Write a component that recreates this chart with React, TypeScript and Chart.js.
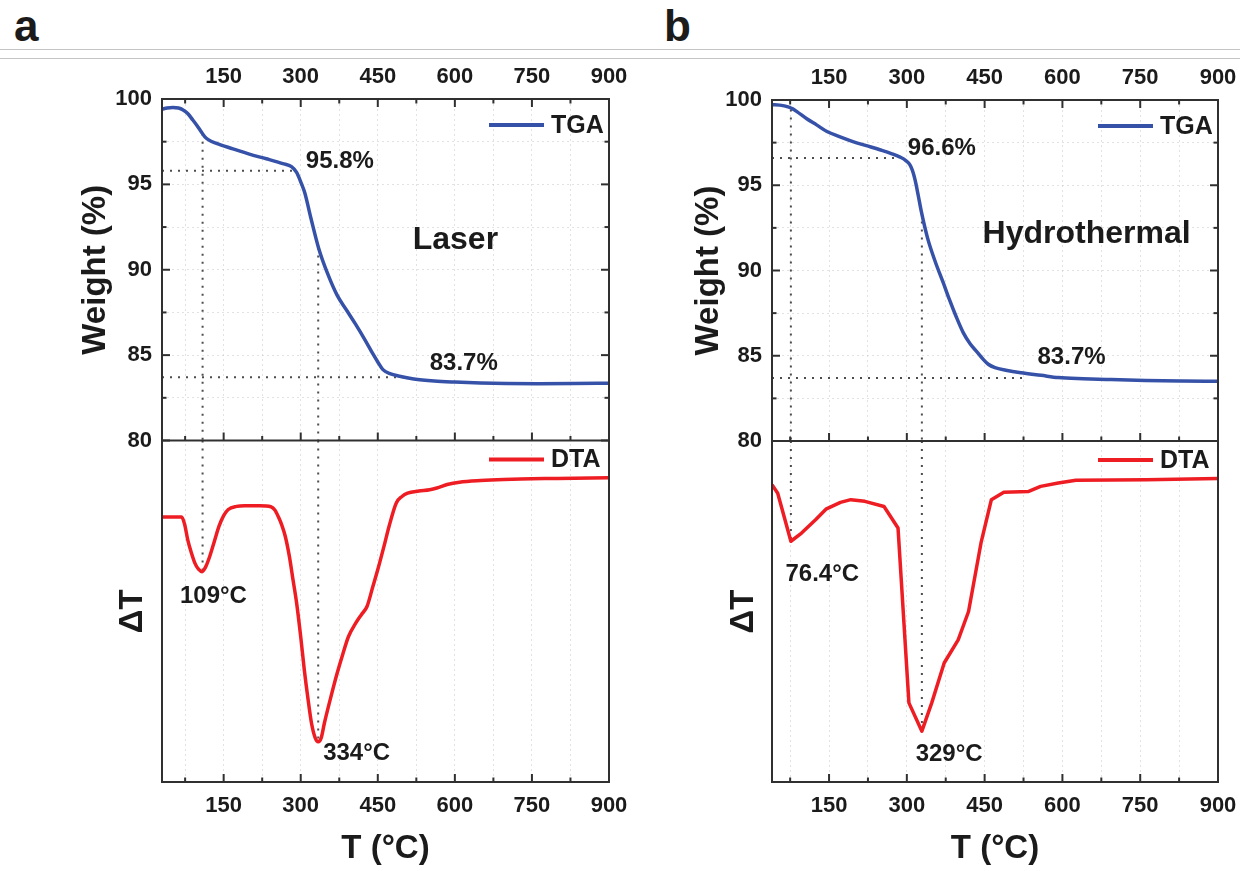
import React, { useEffect, useRef } from "react";
import { Chart, registerables } from "chart.js";

Chart.register(...registerables);

const FONT = "'Liberation Sans', Arial, Helvetica, sans-serif";
const INK = "#1b1b1b";
const FRAME = "#303030";
const GRID = "rgba(190,190,190,0.45)";
const GUIDE = "#4d4d4d";
const TGA_COLOR = "#3651a8";
const DTA_COLOR = "#ee1d23";

// Axis definitions
const T_MAX = 900;
const T_STEP = 75;
const T_LABEL_STEP = 150;
const W_MIN = 80;
const W_MAX = 100;
const W_STEP = 2.5;
const W_LABEL_STEP = 5;
const DT_MIN = 0;
const DT_MAX = 100;
const seriesLabels = ["TGA", "DTA"];
const axisTitles = ["T (°C)", "Weight (%)", "ΔT"];

// ---------- Panel a : Laser ----------
const laserTMin = 30;
const laserTgaT = [30, 40, 51, 62, 71, 80, 90, 98, 106, 113, 120, 136, 168, 200, 233, 265, 282, 292, 301, 308, 320, 335, 352, 371, 390, 407, 425, 440, 450, 460, 475, 490, 520, 560, 600, 650, 700, 760, 830, 900];
const laserTgaW = [99.4, 99.47, 99.5, 99.47, 99.36, 99.15, 98.77, 98.45, 98.1, 97.8, 97.62, 97.4, 97.08, 96.77, 96.5, 96.22, 96.04, 95.7, 95.07, 94.5, 93.0, 91.25, 89.8, 88.5, 87.6, 86.8, 85.9, 85.1, 84.6, 84.15, 83.9, 83.78, 83.6, 83.48, 83.42, 83.37, 83.34, 83.33, 83.34, 83.36];
const laserDtaT = [30, 50, 68, 74, 80, 87, 94, 101, 108, 115, 123, 132, 141, 150, 159, 175, 191, 220, 242, 250, 256, 263, 270, 278, 285, 292, 300, 307, 314, 321, 328, 334, 340, 346, 358, 371, 382, 393, 407, 418, 429, 440, 450, 462, 472, 486, 497, 508, 530, 551, 565, 585, 609, 650, 695, 800, 900];
const laserDtaV = [77.6, 77.6, 77.6, 75.5, 71, 67.2, 64.1, 62.3, 61.6, 63, 66.1, 70.5, 74.9, 78, 79.8, 80.7, 80.9, 80.9, 80.6, 79.6, 77.8, 75.3, 71.9, 66, 59.2, 52.4, 42.5, 32.8, 24.5, 17.2, 13.0, 11.8, 13.0, 17.2, 24.5, 31.9, 37.5, 42.6, 46.5, 49, 51.4, 57, 62.2, 69, 74.9, 81.7, 83.6, 84.6, 85.2, 85.6, 86.1, 87.1, 87.8, 88.3, 88.6, 88.9, 89.1];
const laserPeakT = [109, 334];
const laserPeakW = [97.97, 91.3];
const laserPeakDT = [61.6, 11.8];
const laserLevelW = [95.8, 83.7];
const laserLevelEndT = [290, 500];
const laserNoteText = ["95.8%", "83.7%", "109°C", "334°C"];
const laserNoteT = [310, 551, 65, 343.6];
const laserNoteY = [96.32, 84.5, 54.5, 8.5];
const laserNoteAxis = ["yT", "yT", "yD", "yD"];
const laserSample = "Laser";
const laserSampleT = 518;
const laserSampleW = 91.75;

// ---------- Panel b : Hydrothermal ----------
const hydroTMin = 40;
const hydroTgaT = [40, 55, 71, 80, 88, 107, 126, 146, 170, 196, 222, 248, 270, 287, 298, 306, 311, 316, 322, 328, 340, 355, 370, 382, 395, 409, 422, 436, 447, 457, 470, 491, 520, 559, 592, 640, 694, 760, 830, 900];
const hydroTgaW = [99.72, 99.7, 99.6, 99.48, 99.32, 98.9, 98.54, 98.15, 97.85, 97.56, 97.32, 97.08, 96.86, 96.65, 96.45, 96.2, 95.85, 95.3, 94.4, 93.45, 91.9, 90.5, 89.3, 88.3, 87.3, 86.34, 85.7, 85.2, 84.8, 84.5, 84.3, 84.15, 84.0, 83.85, 83.72, 83.65, 83.6, 83.55, 83.52, 83.5];
const hydroDtaT = [40, 51, 76.4, 97, 124, 144, 172, 192, 219, 256, 283, 304, 329, 348, 372, 399, 419, 443, 463, 487, 535, 558, 592, 626, 762, 900];
const hydroDtaV = [87.2, 84.7, 70.6, 73, 76.9, 80, 82, 82.8, 82.3, 80.8, 74.5, 23.2, 14.9, 23.2, 34.9, 41.7, 50, 70.1, 82.8, 85, 85.2, 86.7, 87.7, 88.5, 88.6, 89];
const hydroPeakT = [76.4, 329];
const hydroPeakW = [99.45, 93.35];
const hydroPeakDT = [70.6, 14.9];
const hydroLevelW = [96.6, 83.7];
const hydroLevelEndT = [287, 531];
const hydroNoteText = ["96.6%", "83.7%", "76.4°C", "329°C"];
const hydroNoteT = [302, 552, 66, 317];
const hydroNoteY = [97.19, 84.91, 61, 8.2];
const hydroNoteAxis = ["yT", "yT", "yD", "yD"];
const hydroSample = "Hydrothermal";
const hydroSampleT = 446;
const hydroSampleW = 92.16;

interface PanelSpec {
  tMin: number;
  tgaT: number[];
  tgaW: number[];
  dtaT: number[];
  dtaV: number[];
  dtaSmooth: boolean;
  peakT: number[];
  peakW: number[];
  peakDT: number[];
  levelW: number[];
  levelEndT: number[];
  noteText: string[];
  noteT: number[];
  noteY: number[];
  noteAxis: string[];
  sample: string;
  sampleT: number;
  sampleW: number;
  axisWidth: number;
  padRight: number;
  topHeight: number;
  weightPad: number;
  dtPad: number;
}

const laserSpec: PanelSpec = {
  tMin: laserTMin, tgaT: laserTgaT, tgaW: laserTgaW, dtaT: laserDtaT, dtaV: laserDtaV, dtaSmooth: true,
  peakT: laserPeakT, peakW: laserPeakW, peakDT: laserPeakDT, levelW: laserLevelW, levelEndT: laserLevelEndT,
  noteText: laserNoteText, noteT: laserNoteT, noteY: laserNoteY, noteAxis: laserNoteAxis,
  sample: laserSample, sampleT: laserSampleT, sampleW: laserSampleW,
  axisWidth: 162, padRight: 41, topHeight: 39, weightPad: 79, dtPad: 116,
};

const hydroSpec: PanelSpec = {
  tMin: hydroTMin, tgaT: hydroTgaT, tgaW: hydroTgaW, dtaT: hydroDtaT, dtaV: hydroDtaV, dtaSmooth: false,
  peakT: hydroPeakT, peakW: hydroPeakW, peakDT: hydroPeakDT, levelW: hydroLevelW, levelEndT: hydroLevelEndT,
  noteText: hydroNoteText, noteT: hydroNoteT, noteY: hydroNoteY, noteAxis: hydroNoteAxis,
  sample: hydroSample, sampleT: hydroSampleT, sampleW: hydroSampleW,
  axisWidth: 152, padRight: 52, topHeight: 40, weightPad: 72, dtPad: 107,
};

const CANVAS_H = 811;
const CANVAS_W = 650;
const BOTTOM_H = 89;

const pts = (xs: number[], ys: number[]) => xs.map((x, i) => ({ x, y: ys[i] }));

function makeDecorPlugin(spec: PanelSpec) {
  return {
    id: "panelDecor",
    afterDraw(chart: any) {
      const { ctx, chartArea: ca, scales } = chart;
      const xs = scales.x;
      const yT = scales.yT;
      const yD = scales.yD;
      const mid = yT.bottom;
      const line = (x1: number, y1: number, x2: number, y2: number) => {
        ctx.beginPath();
        ctx.moveTo(x1, y1);
        ctx.lineTo(x2, y2);
        ctx.stroke();
      };
      ctx.save();
      ctx.setLineDash([]);
      ctx.strokeStyle = FRAME;
      ctx.lineWidth = 2;
      ctx.lineCap = "butt";
      ctx.strokeRect(ca.left, ca.top, ca.right - ca.left, ca.bottom - ca.top);
      line(ca.left, mid, ca.right, mid);
      for (const t of xs.ticks) {
        const px = xs.getPixelForValue(t.value);
        const len = t.value % T_LABEL_STEP === 0 ? 8 : 4.5;
        line(px, ca.top, px, ca.top + len);
        line(px, mid, px, mid - len);
        line(px, ca.bottom, px, ca.bottom - len);
      }
      for (const t of yT.ticks) {
        const py = yT.getPixelForValue(t.value);
        const len = t.value % W_LABEL_STEP === 0 ? 8 : 4.5;
        line(ca.left, py, ca.left + len, py);
        line(ca.right, py, ca.right - len, py);
      }
      // legends
      const legend = (label: string, color: string, y: number) => {
        ctx.strokeStyle = color;
        ctx.lineWidth = 4;
        line(ca.right - 120, y, ca.right - 65, y);
        ctx.fillStyle = INK;
        ctx.font = `bold 25px ${FONT}`;
        ctx.textAlign = "left";
        ctx.textBaseline = "middle";
        ctx.fillText(label, ca.right - 58, y + 1);
      };
      legend(chart.data.datasets[0].label, TGA_COLOR, yT.top + 26);
      legend(chart.data.datasets[1].label, DTA_COLOR, yD.top + 19);
      // notes
      ctx.fillStyle = INK;
      ctx.textAlign = "left";
      ctx.textBaseline = "middle";
      ctx.font = `bold 24px ${FONT}`;
      spec.noteText.forEach((txt, i) => {
        const ax = spec.noteAxis[i] === "yT" ? yT : yD;
        ctx.fillText(txt, xs.getPixelForValue(spec.noteT[i]), ax.getPixelForValue(spec.noteY[i]));
      });
      ctx.font = `bold 32px ${FONT}`;
      ctx.fillText(spec.sample, xs.getPixelForValue(spec.sampleT), yT.getPixelForValue(spec.sampleW));
      ctx.restore();
    },
  };
}

function buildConfig(spec: PanelSpec): any {
  const guideStyle = {
    borderColor: GUIDE,
    borderWidth: 2,
    borderDash: [2, 6],
    borderCapStyle: "butt",
    pointRadius: 0,
    tension: 0,
    fill: false,
    order: 2,
    xAxisID: "x",
  };
  const guides: any[] = [];
  spec.peakT.forEach((t, i) => {
    guides.push({ ...guideStyle, label: "g", yAxisID: "yT", data: [{ x: t, y: spec.peakW[i] }, { x: t, y: W_MIN }] });
    guides.push({ ...guideStyle, label: "g", yAxisID: "yD", data: [{ x: t, y: DT_MAX }, { x: t, y: spec.peakDT[i] }] });
  });
  spec.levelW.forEach((w, i) => {
    guides.push({ ...guideStyle, label: "g", yAxisID: "yT", data: [{ x: spec.tMin, y: w }, { x: spec.levelEndT[i], y: w }] });
  });

  const tickFont = { family: FONT, size: 22, weight: "bold" };
  const titleFont = { family: FONT, size: 33, weight: "bold", lineHeight: 1 };
  const xTickCb = (v: any) => (Number(v) % T_LABEL_STEP === 0 ? String(v) : "");

  return {
    type: "line",
    data: {
      datasets: [
        {
          label: seriesLabels[0],
          data: pts(spec.tgaT, spec.tgaW),
          xAxisID: "x",
          yAxisID: "yT",
          borderColor: TGA_COLOR,
          borderWidth: 3.5,
          pointRadius: 0,
          cubicInterpolationMode: "monotone",
          fill: false,
          order: 0,
        },
        {
          label: seriesLabels[1],
          data: pts(spec.dtaT, spec.dtaV),
          xAxisID: "x",
          yAxisID: "yD",
          borderColor: DTA_COLOR,
          borderWidth: 3.5,
          pointRadius: 0,
          cubicInterpolationMode: spec.dtaSmooth ? "monotone" : "default",
          tension: 0,
          borderJoinStyle: "round",
          fill: false,
          order: 0,
        },
        ...guides,
      ],
    },
    options: {
      responsive: false,
      animation: false,
      events: [],
      devicePixelRatio: 1,
      layout: { padding: { left: 0, right: spec.padRight, top: 0, bottom: 0 } },
      plugins: { legend: { display: false }, tooltip: { enabled: false }, title: { display: false } },
      scales: {
        x: {
          type: "linear",
          position: "bottom",
          min: spec.tMin,
          max: T_MAX,
          ticks: {
            stepSize: T_STEP,
            includeBounds: false,
            autoSkip: false,
            maxRotation: 0,
            padding: 11,
            color: INK,
            font: tickFont,
            callback: xTickCb,
          },
          grid: { color: GRID, lineWidth: 1, drawTicks: false },
          border: { display: false, dash: [2, 3] },
          title: { display: true, text: axisTitles[0], color: INK, font: titleFont, padding: { top: 0, bottom: 6 } },
          afterFit: (s: any) => {
            s.height = BOTTOM_H;
          },
        },
        x2: {
          type: "linear",
          position: "top",
          min: spec.tMin,
          max: T_MAX,
          ticks: {
            stepSize: T_STEP,
            includeBounds: false,
            autoSkip: false,
            maxRotation: 0,
            padding: 9,
            color: INK,
            font: tickFont,
            callback: xTickCb,
          },
          grid: { display: false, drawTicks: false },
          border: { display: false },
          afterFit: (s: any) => {
            s.height = spec.topHeight;
          },
        },
        yD: {
          type: "linear",
          position: "left",
          stack: "panel",
          stackWeight: 1,
          min: DT_MIN,
          max: DT_MAX,
          ticks: { display: false },
          grid: { display: false, drawTicks: false },
          border: { display: false },
          title: { display: true, text: axisTitles[2], color: INK, font: titleFont, padding: { top: spec.dtPad, bottom: 0 } },
          afterFit: (s: any) => {
            s.width = spec.axisWidth;
          },
        },
        yT: {
          type: "linear",
          position: "left",
          stack: "panel",
          stackWeight: 1,
          min: W_MIN,
          max: W_MAX,
          ticks: {
            stepSize: W_STEP,
            autoSkip: false,
            padding: 10,
            color: INK,
            font: tickFont,
            callback: (v: any) => (Number(v) % W_LABEL_STEP === 0 ? String(v) : ""),
          },
          grid: { color: GRID, lineWidth: 1, drawTicks: false },
          border: { display: false, dash: [2, 3] },
          title: { display: true, text: axisTitles[1], color: INK, font: titleFont, padding: { top: spec.weightPad, bottom: 0 } },
          afterFit: (s: any) => {
            s.width = spec.axisWidth;
          },
        },
      },
    },
    plugins: [makeDecorPlugin(spec)],
  };
}

function Panel({ spec, left, width }: { spec: PanelSpec; left: number; width: number }) {
  const ref = useRef<HTMLCanvasElement>(null);
  useEffect(() => {
    if (!ref.current) return;
    const chart = new Chart(ref.current, buildConfig(spec));
    return () => chart.destroy();
  }, [spec]);
  return (
    <canvas
      ref={ref}
      width={width}
      height={CANVAS_H}
      style={{ position: "absolute", left, top: 60, width, height: CANVAS_H }}
    />
  );
}

const panelLetters = ["a", "b"];

export default function App() {
  const letterStyle: React.CSSProperties = {
    position: "absolute",
    top: 4,
    font: `bold 44px ${FONT}`,
    lineHeight: "44px",
    color: INK,
  };
  return (
    <div style={{ position: "fixed", left: 0, top: 0, width: 1240, height: 871, background: "#ffffff", overflow: "hidden" }}>
      <div style={{ ...letterStyle, left: 14 }}>{panelLetters[0]}</div>
      <div style={{ ...letterStyle, left: 664 }}>{panelLetters[1]}</div>
      <div style={{ position: "absolute", left: 0, top: 49, width: 1240, height: 1, background: "#c4c4c4" }} />
      <div style={{ position: "absolute", left: 0, top: 58, width: 1240, height: 1, background: "#c4c4c4" }} />
      <Panel spec={laserSpec} left={0} width={CANVAS_W} />
      <Panel spec={hydroSpec} left={620} width={CANVAS_W} />
    </div>
  );
}
